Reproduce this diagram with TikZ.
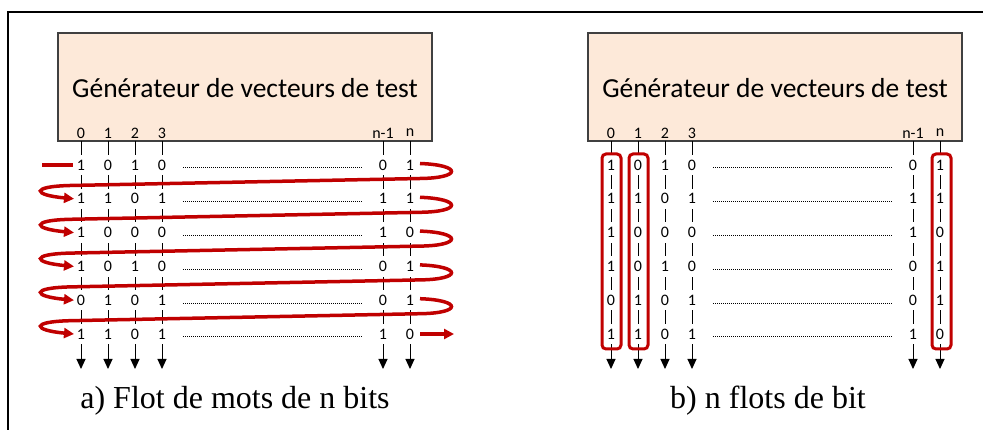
\documentclass[tikz,border=0pt]{standalone}
\usepackage{fontspec}
\setmainfont{Liberation Serif}
\newfontfamily\calfont{Carlito}
\usetikzlibrary{arrows.meta}
\definecolor{peach}{HTML}{FDE9D9}
\definecolor{dred}{HTML}{C00000}
\definecolor{boxedge}{HTML}{404040}
\begin{document}
\begin{tikzpicture}[x=1pt,y=-1pt,
  genbox/.style={draw=boxedge, line width=1.3pt, fill=peach, minimum width=374pt, minimum height=108pt, inner sep=0pt},
  gentitle/.style={font=\calfont\fontsize{27.5}{32}\selectfont, inner sep=0pt},
  collab/.style={font=\calfont\fontsize{16}{18}\selectfont, inner sep=0pt},
  bitnum/.style={font=\calfont\fontsize{16}{18}\selectfont, fill=white, inner xsep=0.5pt, inner ysep=5pt},
  vline/.style={line width=1pt, -{Triangle[length=10pt,width=9pt]}},
  dotline/.style={line width=1pt, dash pattern=on 1pt off 1pt},
  redline/.style={draw=dred, line width=3.5pt},
  redarrow/.style={draw=dred, line width=3.5pt, -{Triangle[length=10pt,width=10pt]}},
  redframe/.style={draw=dred, line width=3pt, rounded corners=4pt},
  caption/.style={font=\fontsize{32}{36}\selectfont, inner sep=0pt}
]
\useasboundingbox (0,0) rectangle (983,430);
\coordinate (fr-bl) at (8,430);
\coordinate (fr-tl) at (8,12);
\coordinate (fr-tr) at (983,12);
\draw[line width=1.5pt] (fr-bl) -- (fr-tl) -- (fr-tr);

\foreach \p/\dx in {a/0,b/530} {
  \node[genbox] (box-\p) at (245+\dx,87) {};
  \node[gentitle] (title-\p) at (245+\dx,88) {Générateur de vecteurs de test};
  \foreach \c/\x/\lab in {0/81/0,1/108/1,2/135/2,3/162/3,4/383/n-1,5/410/n} {
    \node[collab] (lab-\p-\c) at (\x+\dx,133) {\lab};
    \coordinate (top-\p-\c) at (\x+\dx,141.5);
    \coordinate (bot-\p-\c) at (\x+\dx,369);
    \draw[vline] (top-\p-\c) -- (bot-\p-\c);
  }
  \foreach \r/\vals in {1/{1,0,1,0,0,1},2/{1,1,0,1,1,1},3/{1,0,0,0,1,0},4/{1,0,1,0,0,1},5/{0,1,0,1,0,1},6/{1,1,0,1,1,0}} {
    \pgfmathsetmacro\yy{165+33.8*(\r-1)}
    \foreach \v [count=\c from 0] in \vals {
      \pgfmathsetmacro\xx{{81,108,135,162,383,410}[\c]}
      \node[bitnum] (d-\p-\r-\c) at (\xx+\dx,\yy) {\v};
    }
    \coordinate (dl-\p-\r) at (183+\dx,\yy+3);
    \coordinate (dr-\p-\r) at (363+\dx,\yy+3);
    \draw[dotline] (dl-\p-\r) -- (dr-\p-\r);
  }
}

% panel a : red serpentine
\coordinate (st0) at (42,165);
\coordinate (st1) at (73,165);
\draw[redline] (st0) -- (st1);
\foreach \r in {1,...,5} {
  \pgfmathsetmacro\yy{165+33.8*(\r-1)}
  \coordinate (rs-\r) at (420,\yy-1.5);
  \coordinate (re-\r) at (74,\yy+33.8);
  \draw[redarrow] (rs-\r) .. controls (462,\yy) and (462,\yy+13) .. (420,\yy+13.5) -- (70,\yy+20.5) .. controls (30,\yy+21.5) and (33,\yy+30) .. (re-\r);
}
\coordinate (fin0) at (420,334);
\coordinate (fin1) at (454,334);
\draw[redarrow] (fin0) -- (fin1);

% panel b : red frames
\foreach \c/\x in {0/611.5,1/638.5,5/941.5} {
  \coordinate (fa-\c) at (\x-9.5,154);
  \coordinate (fb-\c) at (\x+9.5,349);
  \draw[redframe] (fa-\c) rectangle (fb-\c);
}

\node[caption] (cap-a) at (235,401) {a) Flot de mots de n bits};
\node[caption] (cap-b) at (768,401) {b) n flots de bit};
\end{tikzpicture}
\end{document}
